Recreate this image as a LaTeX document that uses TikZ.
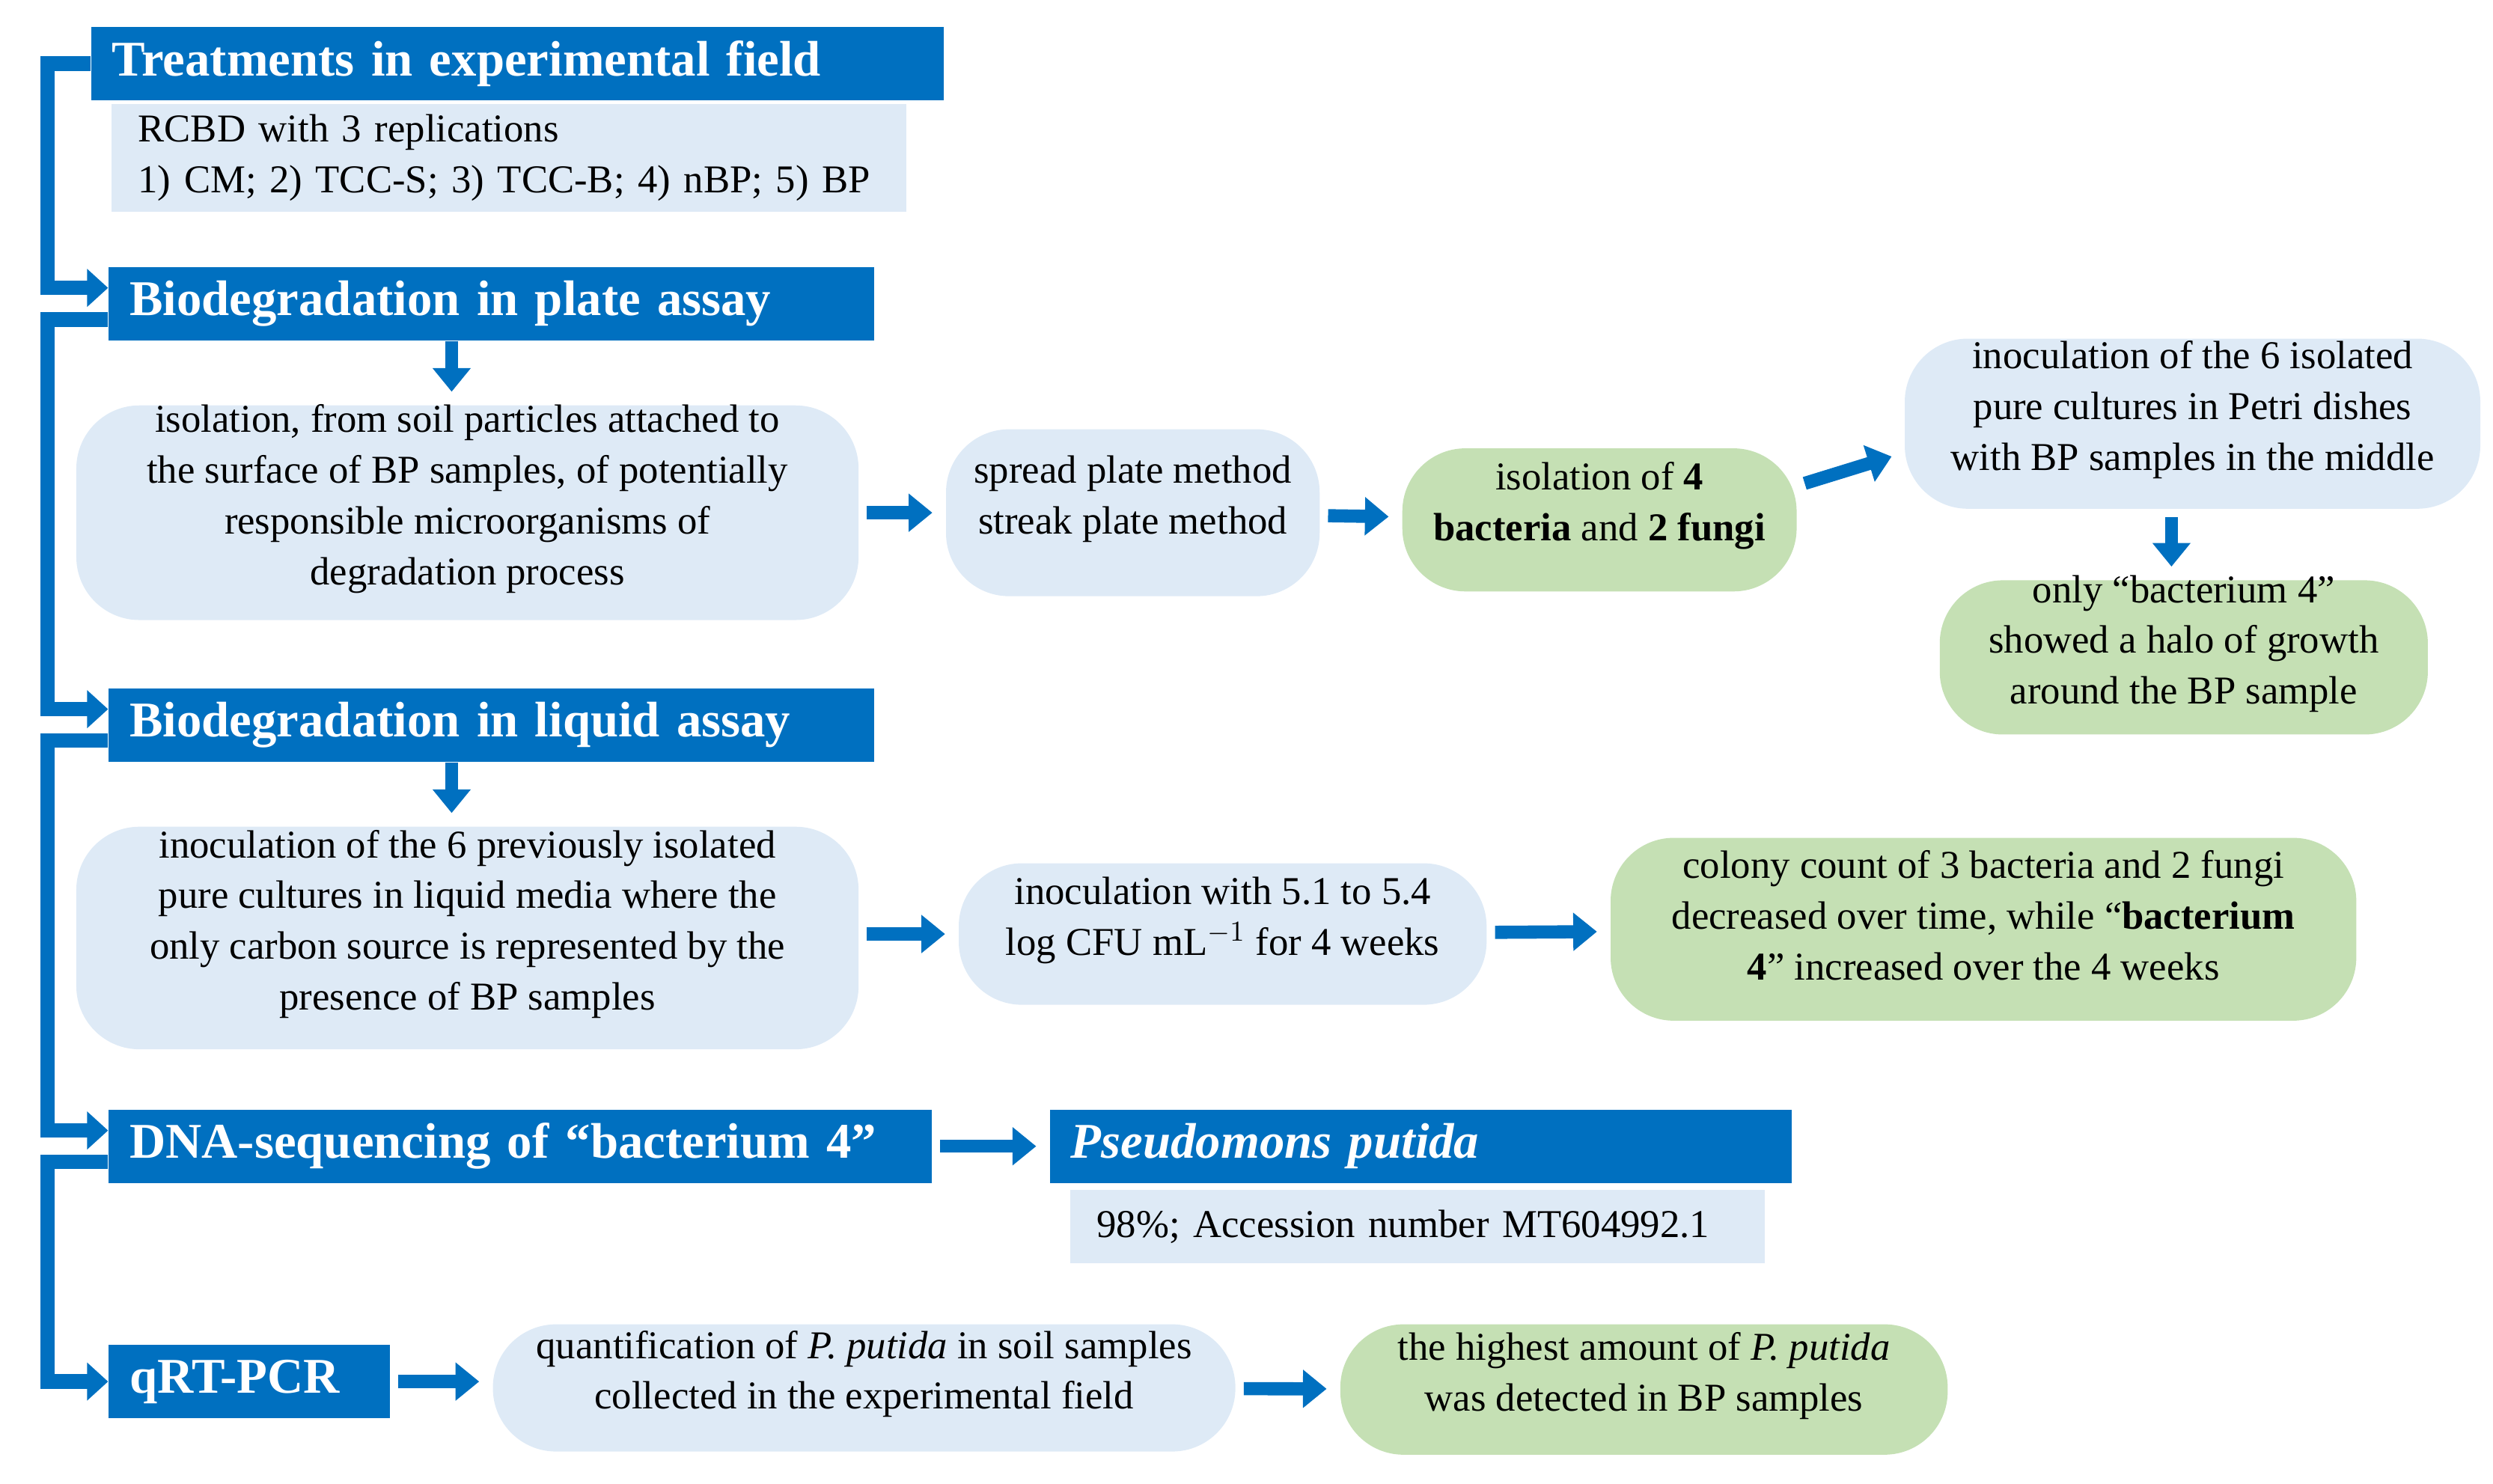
\documentclass[tikz,border=0pt]{standalone}
\usepackage{fontspec}
\setmainfont{Liberation Serif}
\usetikzlibrary{fit,arrows.meta}
\definecolor{bl}{HTML}{0070C0}
\definecolor{lb}{HTML}{DEEAF6}
\definecolor{gr}{HTML}{C5E0B4}
\begin{document}
\begin{tikzpicture}[x=0.21245mm,y=-0.21245mm,
  hdr/.style={fill=bl,text=white,font=\bfseries\fontsize{19}{22}\selectfont,anchor=west,align=left,inner xsep=8pt,inner ysep=0pt,minimum height=28pt},
  sub/.style={fill=lb,font=\fontsize{15}{19.3}\selectfont,anchor=north west,align=left,inner xsep=10pt,inner ysep=0pt},
  rb/.style={fill=lb,rounded corners=24pt,inner sep=0pt,align=center,font=\fontsize{15}{19.3}\selectfont},
  gb/.style={rb,fill=gr},
  arr/.style={draw=bl,line width=5pt,-{Triangle[length=9pt,width=14pt]},shorten <=3pt,shorten >=5pt},
  brk/.style={draw=bl,line width=5.5pt,-{Triangle[length=8pt,width=14pt]}}]
\useasboundingbox (0,0) rectangle (1568,933);
\coordinate (bx) at (30,0);
% headers
\node[hdr,text width=308pt,minimum width=324pt] (H1) at (57,40) {Treatments in experimental field};
\node[sub,text width=282pt,minimum height=41pt] (S1) at (70,65) {RCBD with 3 replications\\1) CM; 2) TCC-S; 3) TCC-B; 4) nBP; 5) BP};
\node[hdr,text width=275pt,minimum width=291pt] (H2) at (68,191) {Biodegradation in plate assay};
\node[hdr,text width=275pt,minimum width=291pt] (H3) at (68,456) {Biodegradation in liquid assay};
\node[hdr,text width=297pt,minimum width=313pt] (H4) at (68,721) {DNA-sequencing of “bacterium 4”};
\node[hdr,text width=266pt,minimum width=282pt,font=\bfseries\itshape\fontsize{19}{22}\selectfont] (H5) at (660,721) {Pseudomons putida};
\node[sub,text width=244pt,minimum height=28pt] (S2) at (673,748) {98\%; Accession number MT604992.1};
\node[hdr,text width=91pt,minimum width=107pt] (H6) at (68,869) {qRT-PCR};
% boxes
\node[rb,fit={(48,255)(540,390)}] (A) {isolation, from soil particles attached to\\the surface of BP samples, of potentially\\responsible microorganisms of\\degradation process};
\node[rb,fit={(595,270)(830,375)}] (B) {spread plate method\\streak plate method};
\node[gb,fit={(882,282)(1130,372)}] (C) {isolation of \textbf{4}\\\textbf{bacteria} and \textbf{2 fungi}};
\node[rb,fit={(1198,213)(1560,320)}] (D) {inoculation of the 6 isolated\\pure cultures in Petri dishes\\with BP samples in the middle};
\node[gb,fit={(1220,365)(1527,462)}] (E) {only “bacterium 4”\\showed a halo of growth\\around the BP sample};
\node[rb,fit={(48,520)(540,660)}] (F) {inoculation of the 6 previously isolated\\pure cultures in liquid media where the\\only carbon source is represented by the\\presence of BP samples};
\node[rb,fit={(603,543)(935,632)}] (G) {inoculation with 5.1 to 5.4\\log CFU mL$^{-1}$ for 4 weeks};
\node[gb,fit={(1013,527)(1482,642)}] (HH) {colony count of 3 bacteria and 2 fungi\\decreased over time, while “\textbf{bacterium}\\\textbf{4}” increased over the 4 weeks};
\node[rb,fit={(310,833)(777,913)}] (I) {quantification of \textit{P. putida} in soil samples\\collected in the experimental field};
\node[gb,fit={(843,833)(1225,915)}] (J) {the highest amount of \textit{P. putida}\\was detected in BP samples};
% bracket
\draw[brk] (H1.west) -- (H1.west -| bx) |- ([yshift=6pt]H2.west);
\draw[brk] ([yshift=-6pt]H2.west) -- ([yshift=-6pt]H2.west -| bx) |- ([yshift=6pt]H3.west);
\draw[brk] ([yshift=-6pt]H3.west) -- ([yshift=-6pt]H3.west -| bx) |- ([yshift=6pt]H4.west);
\draw[brk] ([yshift=-6pt]H4.west) -- ([yshift=-6pt]H4.west -| bx) |- (H6.west);
% arrows
\draw[arr,shorten <=0pt] ([xshift=-6pt]A.north |- H2.south) -- ([xshift=-6pt]A.north);
\draw[arr,shorten <=0pt] ([xshift=-6pt]F.north |- H3.south) -- ([xshift=-6pt]F.north);
\draw[arr] (A) -- (B);
\draw[arr] (B) -- (C);
\draw[arr] ([yshift=13pt]C.east) -- ([yshift=-11pt]D.west);
\draw[arr] ([xshift=-8pt]D.south) -- ([xshift=-8pt]D.south |- E.north);
\draw[arr] (A.east |- G) -- (G);
\draw[arr] (G) -- (HH);
\draw[arr] (H4) -- (H5);
\draw[arr] (H6) -- (H6 -| I.west);
\draw[arr] (I) -- (J);
\end{tikzpicture}
\end{document}
